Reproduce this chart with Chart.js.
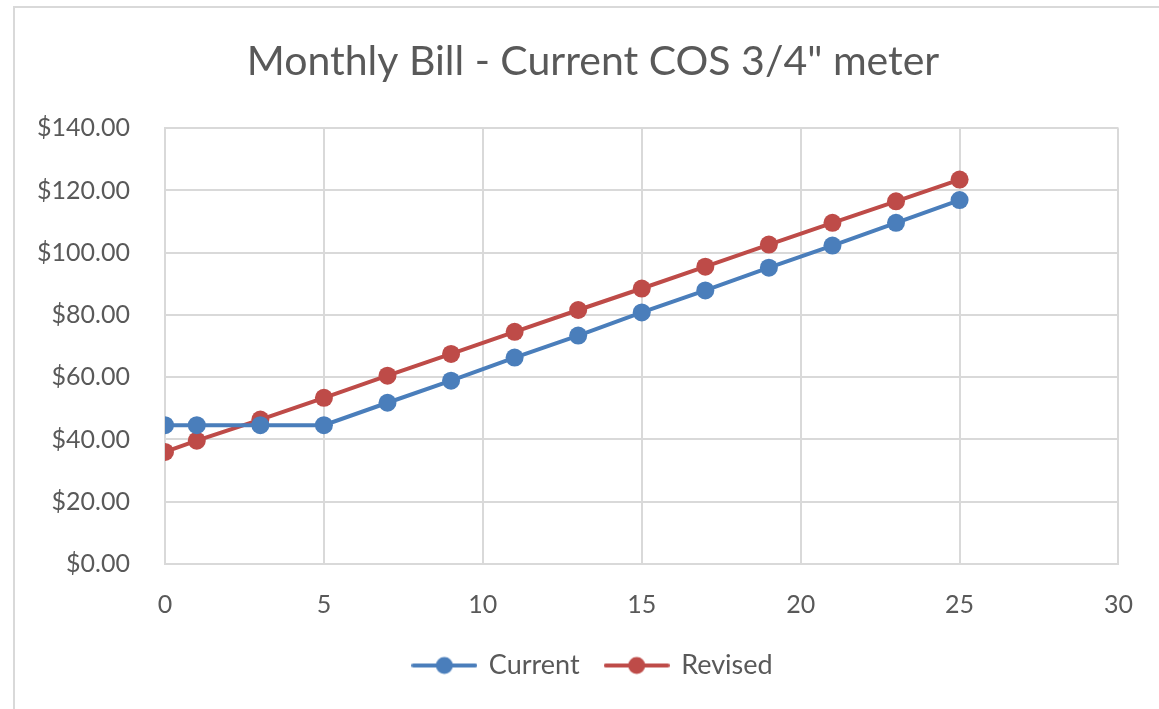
<!DOCTYPE html>
<html>
<head>
<meta charset="utf-8">
<title>Monthly Bill - Current COS 3/4" meter</title>
<script src="https://cdn.jsdelivr.net/npm/chart.js@4.4.1/dist/chart.umd.min.js"></script>
<style>
  html, body { margin: 0; padding: 0; background: #ffffff; }
  #wrap { width: 1159px; height: 709px; position: relative; }
</style>
</head>
<body>
<div id="wrap"><canvas id="c" width="1159" height="709"></canvas></div>
<script>
// Usage (x) and monthly bill in dollars (y)
const usage = [0, 1, 3, 5, 7, 9, 11, 13, 15, 17, 19, 21, 23, 25];
const currentBill = [44.6, 44.6, 44.6, 44.6, 51.8, 58.9, 66.3, 73.4, 80.8, 87.9, 95.2, 102.3, 109.6, 116.9];
const revisedBill = [36.0, 39.6, 46.4, 53.4, 60.5, 67.5, 74.6, 81.6, 88.5, 95.5, 102.6, 109.6, 116.5, 123.5];
const seriesNames = ['Current', 'Revised'];
const xTicks = [0, 5, 10, 15, 20, 25, 30];
const yTicks = [0, 20, 40, 60, 80, 100, 120, 140];

const BLUE = '#4a7ebb';
const RED = '#be4b48';
const GRID = '#d9d9d9';
const TEXT = '#595959';
const FONT = 'Lato, "Open Sans", sans-serif';
const HEADER_LEFT = 65; // title and legend are centred over the framed box, not the canvas

const toPoints = (xs, ys) => xs.map((x, i) => ({ x: x, y: ys[i] }));

// Legend marker: short line with a dot in the middle
function legendMarker(color) {
  const c = document.createElement('canvas');
  c.width = 66; c.height = 20;
  const g = c.getContext('2d');
  g.strokeStyle = color;
  g.lineWidth = 4;
  g.lineCap = 'round';
  g.beginPath(); g.moveTo(2, 10); g.lineTo(64, 10); g.stroke();
  g.fillStyle = color;
  g.beginPath(); g.arc(33, 10, 8.5, 0, Math.PI * 2); g.fill();
  return c;
}

// Thin frame around the chart box
const frame = {
  id: 'frame',
  beforeDraw(chart) {
    const ctx = chart.ctx;
    ctx.save();
    ctx.strokeStyle = '#d9d9d9';
    ctx.lineWidth = 2;
    ctx.beginPath();
    ctx.moveTo(14, 720); ctx.lineTo(14, 7); ctx.lineTo(1170, 7);
    ctx.stroke();
    ctx.restore();
  }
};

// Shift the horizontal extent of the title and legend boxes
const headerShift = {
  id: 'headerShift',
  afterLayout(chart) {
    [chart.titleBlock, chart.legend].forEach(box => {
      if (!box) return;
      box.left = HEADER_LEFT;
      box.width = box.right - box.left;
    });
  }
};

const colors = [BLUE, RED];
const data = [currentBill, revisedBill];

new Chart(document.getElementById('c'), {
  type: 'scatter',
  data: {
    datasets: seriesNames.map((name, i) => ({
      label: name,
      data: toPoints(usage, data[i]),
      showLine: true,
      borderColor: colors[i],
      backgroundColor: colors[i],
      borderWidth: 4,
      pointRadius: 9,
      pointHoverRadius: 9,
      pointBorderWidth: 0,
      pointStyle: 'circle',
      tension: 0
    }))
  },
  options: {
    responsive: false,
    animation: false,
    devicePixelRatio: 1,
    layout: { padding: { left: 0, right: 38, top: 0, bottom: 20 } },
    plugins: {
      title: {
        display: true,
        text: 'Monthly Bill - Current COS 3/4" meter',
        color: TEXT,
        font: { family: FONT, size: 41, weight: 'normal' },
        padding: { top: 37, bottom: 42 }
      },
      legend: {
        position: 'bottom',
        labels: {
          color: TEXT,
          font: { family: FONT, size: 27 },
          usePointStyle: true,
          pointStyleWidth: 62,
          padding: 26,
          generateLabels(chart) {
            return chart.data.datasets.map((ds, i) => ({
              text: ds.label,
              fillStyle: ds.borderColor,
              strokeStyle: ds.borderColor,
              pointStyle: legendMarker(ds.borderColor),
              fontColor: TEXT,
              lineWidth: 0,
              hidden: false,
              datasetIndex: i
            }));
          }
        }
      },
      tooltip: { enabled: false }
    },
    scales: {
      x: {
        type: 'linear',
        min: 0,
        max: 30,
        afterBuildTicks(axis) { axis.ticks = xTicks.map(v => ({ value: v })); },
        grid: { color: GRID, lineWidth: 2, drawTicks: false },
        border: { color: GRID, width: 2 },
        ticks: { color: TEXT, font: { family: FONT, size: 25 }, padding: 26 },
        afterFit(axis) { axis.height = 62; }
      },
      y: {
        type: 'linear',
        min: 0,
        max: 140,
        afterBuildTicks(axis) { axis.ticks = yTicks.map(v => ({ value: v })); },
        grid: { color: GRID, lineWidth: 2, drawTicks: false },
        border: { color: GRID, width: 2 },
        ticks: {
          color: TEXT,
          font: { family: FONT, size: 25 },
          padding: 35,
          callback: v => '$' + Number(v).toFixed(2)
        },
        afterFit(axis) { axis.width = 165; }
      }
    }
  },
  plugins: [frame, headerShift]
});
</script>
</body>
</html>
